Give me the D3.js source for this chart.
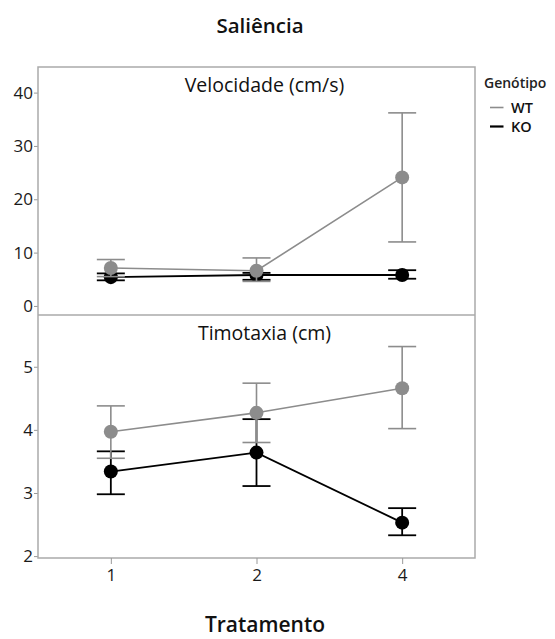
<!DOCTYPE html>
<html><head><meta charset="utf-8">
<script src="https://cdn.jsdelivr.net/npm/d3@7"></script>
<style>body{margin:0;background:#fff}</style>
</head><body>
<script>
const categories = ["1","2","4"];
const genotypes = ["WT","KO"];
const colors = {WT:"#8c8c8c", KO:"#000000"};
// Velocidade (cm/s)
const velWT = [7.1, 6.6, 24.1];
const velWTlo = [5.5, 4.6, 12.0];
const velWThi = [8.7, 9.0, 36.2];
const velKO = [5.4, 5.8, 5.8];
const velKOlo = [4.8, 4.9, 5.1];
const velKOhi = [6.1, 6.2, 6.7];
// Timotaxia (cm)
const timWT = [3.97, 4.27, 4.66];
const timWTlo = [3.55, 3.80, 4.02];
const timWThi = [4.38, 4.74, 5.32];
const timKO = [3.34, 3.64, 2.53];
const timKOlo = [2.98, 3.11, 2.33];
const timKOhi = [3.66, 4.17, 2.76];
const velTicks = [0,10,20,30,40];
const timTicks = [2,3,4,5];

const W=555,H=639;
const svg=d3.select("body").append("svg").attr("width",W).attr("height",H);
const font="'Open Sans', 'Noto Sans', sans-serif";
const L=38,R=475,T=67,MID=315,B=558;
const x=d3.scalePoint().domain(categories).range([L,R]).padding(0.5);

const panels=[
 {title:"Velocidade (cm/s)", top:T, bot:MID, domain:[-1.7,44.8], ticks:velTicks,
  series:{WT:[velWT,velWTlo,velWThi],KO:[velKO,velKOlo,velKOhi]}},
 {title:"Timotaxia (cm)", top:MID, bot:B, domain:[1.97,5.82], ticks:timTicks,
  series:{WT:[timWT,timWTlo,timWThi],KO:[timKO,timKOlo,timKOhi]}}
];

panels.forEach(p=>{
  const y=d3.scaleLinear().domain(p.domain).range([p.bot,p.top]);
  const g=svg.append("g");
  const ax=g.append("g").attr("transform",`translate(${L},0)`)
    .call(d3.axisLeft(y).tickValues(p.ticks).tickFormat(d3.format("d")).tickSize(4).tickPadding(1));
  ax.select(".domain").remove();
  ax.selectAll(".tick line").attr("stroke","#999");
  ax.selectAll(".tick text").attr("font-family",font).attr("font-size",17).attr("fill","#1a1a1a");
  g.append("text").attr("x",(L+R)/2+8).attr("y",p.top+25).attr("text-anchor","middle")
    .attr("font-family",font).attr("font-size",19.5).attr("fill","#111").text(p.title);
  ["KO","WT"].forEach(gt=>{
    const [m,lo,hi]=p.series[gt];
    const c=colors[gt];
    const sw= gt==="WT"?1.6:1.8;
    g.append("path").datum(categories.map((k,i)=>[x(k),y(m[i])]))
      .attr("d",d3.line()).attr("fill","none").attr("stroke",c).attr("stroke-width",sw);
    categories.forEach((k,i)=>{
      const cx=x(k);
      g.append("line").attr("x1",cx).attr("x2",cx).attr("y1",y(lo[i])).attr("y2",y(hi[i])).attr("stroke",c).attr("stroke-width",sw);
      [lo[i],hi[i]].forEach(v=>g.append("line").attr("x1",cx-14).attr("x2",cx+14).attr("y1",y(v)).attr("y2",y(v)).attr("stroke",c).attr("stroke-width",sw));
    });
    categories.forEach((k,i)=>{
      g.append("circle").attr("cx",x(k)).attr("cy",y(m[i])).attr("r",7).attr("fill",c);
    });
  });
});
svg.append("rect").attr("x",L).attr("y",T).attr("width",R-L).attr("height",B-T).attr("fill","none").attr("stroke","#aaa").attr("stroke-width",1.5);
svg.append("line").attr("x1",L).attr("x2",R).attr("y1",MID).attr("y2",MID).attr("stroke","#aaa").attr("stroke-width",1.5);
const xa=svg.append("g").attr("transform",`translate(0,${B})`).call(d3.axisBottom(x).tickSize(6).tickPadding(5));
xa.select(".domain").remove();
xa.selectAll(".tick line").attr("stroke","#999");
xa.selectAll(".tick text").attr("font-family",font).attr("font-size",17).attr("fill","#1a1a1a");
svg.append("text").attr("x",260).attr("y",33).attr("text-anchor","middle").attr("font-family",font).attr("font-size",20.5).attr("font-weight",600).attr("fill","#111").text("Saliência");
svg.append("text").attr("x",265).attr("y",632).attr("text-anchor","middle").attr("font-family",font).attr("font-size",21).attr("font-weight",600).attr("fill","#111").text("Tratamento");
const lg=svg.append("g");
lg.append("text").attr("x",484).attr("y",88).attr("font-family",font).attr("font-size",14).attr("font-weight",600).attr("fill","#222").text("Genótipo");
genotypes.forEach((gt,i)=>{
  const yy=107.5+i*19;
  lg.append("line").attr("x1",490).attr("x2",503.5).attr("y1",yy).attr("y2",yy).attr("stroke",colors[gt]).attr("stroke-width",gt==="WT"?1.6:2.2);
  lg.append("text").attr("x",511).attr("y",yy+5.2).attr("font-family",font).attr("font-size",14.5).attr("font-weight",600).attr("fill","#111").text(gt);
});
</script>
</body></html>
